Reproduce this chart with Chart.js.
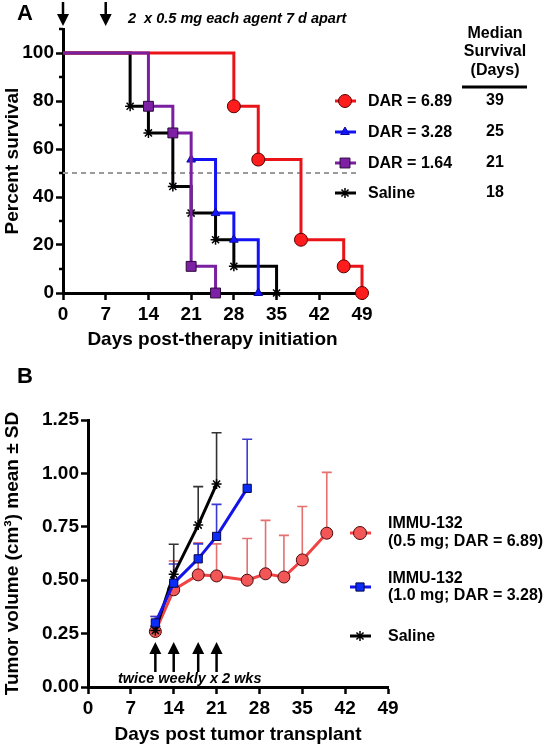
<!DOCTYPE html>
<html>
<head>
<meta charset="utf-8">
<script src="https://cdn.jsdelivr.net/npm/chart.js@4.4.1/dist/chart.umd.min.js"></script>
<style>
  html, body { margin: 0; padding: 0; background: #fff; }
  #wrap { position: relative; width: 550px; height: 754px; }
  #survival { position: absolute; left: 0; top: 0; }
  #tumor { position: absolute; left: 0; top: 360px; }
</style>
</head>
<body>
<div id="wrap">
  <canvas id="survival" width="550" height="360"></canvas>
  <canvas id="tumor" width="550" height="394"></canvas>
</div>
<script>
// ---- panel A: Kaplan-Meier survival ----
var dayTicks = [0, 7, 14, 21, 28, 35, 42, 49];
var survLabels = ['DAR = 6.89', 'DAR = 3.28', 'DAR = 1.64', 'Saline'];
var medianSurvival = [39, 25, 21, 18];
var dar689Days = [0, 28, 32, 39, 46, 49];
var dar689Surv = [100, 77.8, 55.6, 22.2, 11.1, 0];
// the 3.28 curve is only visible from its first drop on
var dar328Days = [21, 25, 28, 32];
var dar328Surv = [55.6, 33.3, 22.2, 0];
var dar164Days = [0, 14, 18, 21, 25];
var dar164Surv = [100, 77.8, 66.7, 11.1, 0];
var salineDays = [0, 11, 14, 18, 21, 25, 28, 35];
var salineSurv = [100, 77.8, 66.7, 44.4, 33.3, 22.2, 11.1, 0];
var halfSurvival = [50, 50];
var halfSurvivalDays = [0, 48.4];
var doseDaysA = [0, 7];

// ---- panel B: tumor volume ----
var tumorLabels = [['IMMU-132', '(0.5 mg; DAR = 6.89)'], ['IMMU-132', '(1.0 mg; DAR = 3.28)'], ['Saline']];
var lowDoseDays = [11, 14, 18, 21, 26, 29, 32, 35, 39];
var lowDoseMean = [0.26, 0.455, 0.525, 0.52, 0.50, 0.53, 0.515, 0.595, 0.72];
var lowDoseSD = [0.07, 0.135, 0.15, 0.15, 0.195, 0.25, 0.195, 0.25, 0.285];
var highDoseDays = [11, 14, 18, 21, 26];
var highDoseMean = [0.30, 0.486, 0.60, 0.705, 0.93];
var highDoseSD = [0.03, 0.09, 0.07, 0.15, 0.23];
var salineTvDays = [11, 14, 18, 21];
var salineTvMean = [0.265, 0.528, 0.758, 0.95];
var salineTvSD = [0.02, 0.14, 0.18, 0.24];
var doseDaysB = [11, 14, 18, 21];

var FONT = '"Liberation Sans", Arial, sans-serif';
Chart.defaults.font.family = FONT;
Chart.defaults.color = '#000';

function pts(xs, ys) { return xs.map(function (d, i) { return { x: d, y: ys[i] }; }); }

function arrow(ctx, x, yA, yB, down) {
  // yA = tail end, yB = tip
  var head = 12, w = 6;
  ctx.beginPath();
  ctx.moveTo(x, yA);
  ctx.lineTo(x, down ? yB - head + 1 : yB + head - 1);
  ctx.stroke();
  ctx.beginPath();
  ctx.moveTo(x, yB);
  ctx.lineTo(x - w, down ? yB - head : yB + head);
  ctx.lineTo(x + w, down ? yB - head : yB + head);
  ctx.closePath();
  ctx.fill();
}

function legendMark(ctx, ds, x, y) {
  ctx.strokeStyle = ds.borderColor;
  ctx.lineWidth = 3;
  ctx.beginPath(); ctx.moveTo(x - 10, y); ctx.lineTo(x + 11, y); ctx.stroke();
  ctx.fillStyle = ds.pointBackgroundColor;
  ctx.strokeStyle = ds.pointBorderColor;
  ctx.lineWidth = ds.pointBorderWidth;
  Chart.helpers.drawPoint(ctx, { pointStyle: ds.pointStyle, radius: ds.legendRadius, borderWidth: ds.pointBorderWidth, rotation: 0 }, x, y);
}

var axisFont = { size: 19, weight: 'bold' };

var extrasA = {
  id: 'extrasA',
  afterDraw: function (chart) {
    var ctx = chart.ctx, x = chart.scales.x, y = chart.scales.y;
    ctx.save();
    ctx.strokeStyle = '#000'; ctx.lineWidth = 2.5;
    [10, 30, 50, 70, 90, 110].forEach(function (v) {
      var py = y.getPixelForValue(v);
      ctx.beginPath(); ctx.moveTo(x.left - 4, py); ctx.lineTo(x.left, py); ctx.stroke();
    });
    ctx.fillStyle = '#000'; ctx.lineWidth = 2.5;
    doseDaysA.forEach(function (d) { arrow(ctx, x.getPixelForValue(d), 2, 26, true); });

    ctx.textBaseline = 'alphabetic'; ctx.textAlign = 'left';
    ctx.font = 'bold 22px ' + FONT;
    ctx.fillText('A', 17, 20);
    ctx.font = 'italic bold 14.5px ' + FONT;
    ctx.fillText('2  x 0.5 mg each agent 7 d apart', 128, 23);

    ctx.font = 'bold 16px ' + FONT;
    ctx.textAlign = 'center'; ctx.textBaseline = 'middle';
    ctx.fillText('Median', 495, 34);
    ctx.fillText('Survival', 495, 52);
    ctx.fillText('(Days)', 495, 71);
    ctx.lineWidth = 3;
    ctx.beginPath(); ctx.moveTo(462, 87); ctx.lineTo(527, 87); ctx.stroke();

    var rows = [101, 132, 163, 193];
    for (var i = 0; i < 4; i++) {
      var ds = chart.data.datasets[i];
      legendMark(ctx, ds, 345, rows[i]);
      ctx.fillStyle = '#000';
      ctx.textAlign = 'left';
      ctx.fillText(survLabels[i], 368, rows[i] + 1);
      ctx.textAlign = 'center';
      ctx.fillText(String(medianSurvival[i]), 495, rows[i]);
    }
    ctx.restore();
  }
};

function kmSet(label, days, surv, line, fill, edge, style, r, order) {
  return {
    label: label, data: pts(days, surv), stepped: true, borderColor: line, borderWidth: 3,
    pointStyle: style, pointBackgroundColor: fill, pointBorderColor: edge, pointBorderWidth: style === 'star' ? 1.5 : 1,
    pointRadius: function (c) { return c.raw && c.raw.y === 100 ? 0 : r; }, legendRadius: r, order: order, clip: false
  };
}

new Chart(document.getElementById('survival'), {
  type: 'line',
  data: {
    datasets: [
      kmSet(survLabels[0], dar689Days, dar689Surv, '#ea1418', '#ff1c1c', '#5a0000', 'circle', 6.5, 1),
      kmSet(survLabels[1], dar328Days, dar328Surv, '#1212f2', '#1414ff', '#0a0aa0', 'triangle', 5, 2),
      kmSet(survLabels[2], dar164Days, dar164Surv, '#7a1fa0', '#7d20a6', '#2a0a3a', 'rect', 7, 0),
      kmSet(survLabels[3], salineDays, salineSurv, '#000', '#000', '#000', 'star', 5, 3),
      { label: 'median', data: pts(halfSurvivalDays, halfSurvival), borderColor: '#9a9a9a', borderDash: [5, 4],
        borderWidth: 2, pointRadius: 0, order: 5 }
    ]
  },
  options: {
    responsive: false, animation: false, devicePixelRatio: 1,
    layout: { padding: { left: 0, top: 29, right: 188, bottom: 0 } },
    plugins: { legend: { display: false }, tooltip: { enabled: false } },
    scales: {
      x: {
        type: 'linear', min: 0, max: 49,
        afterBuildTicks: function (s) { s.ticks = dayTicks.map(function (v) { return { value: v }; }); },
        ticks: { font: axisFont, color: '#000', padding: 3, maxRotation: 0, autoSkip: false },
        grid: { drawOnChartArea: false, tickLength: 7, tickWidth: 2.5, tickColor: '#000' },
        border: { color: '#000', width: 3 },
        title: { display: true, text: 'Days post-therapy initiation', font: axisFont, color: '#000', padding: { top: 0, bottom: 9 } },
        afterFit: function (s) { s.height = 67; }
      },
      y: {
        min: 0, max: 110,
        ticks: { stepSize: 10, font: axisFont, color: '#000', padding: 2,
          callback: function (v) { return (v % 20 === 0 && v <= 100) ? v : ''; } },
        grid: { drawOnChartArea: false, tickLength: 7, tickWidth: 2.5,
          tickColor: function (c) { return (c.tick && c.tick.value % 20 === 0 && c.tick.value <= 100) ? '#000' : 'rgba(0,0,0,0)'; } },
        border: { color: '#000', width: 3 },
        title: { display: true, text: 'Percent survival', font: axisFont, color: '#000', padding: { top: 1, bottom: 0 } },
        afterFit: function (s) { s.width = 63; }
      }
    }
  },
  plugins: [extrasA]
});

// ---- panel B ----
var errorBars = {
  id: 'errorBars',
  beforeDatasetsDraw: function (chart) {
    var ctx = chart.ctx, x = chart.scales.x, y = chart.scales.y;
    ctx.save();
    chart.data.datasets.forEach(function (ds) {
      ctx.strokeStyle = ds.errorColor; ctx.lineWidth = 1.6;
      ds.data.forEach(function (p, i) {
        var px = x.getPixelForValue(p.x), y0 = y.getPixelForValue(p.y), y1 = y.getPixelForValue(p.y + ds.sd[i]);
        ctx.beginPath();
        ctx.moveTo(px, y0); ctx.lineTo(px, y1);
        ctx.moveTo(px - 5, y1); ctx.lineTo(px + 5, y1);
        ctx.stroke();
      });
    });
    ctx.restore();
  }
};

var extrasB = {
  id: 'extrasB',
  afterDraw: function (chart) {
    var ctx = chart.ctx, x = chart.scales.x;
    ctx.save();
    ctx.fillStyle = '#000'; ctx.strokeStyle = '#000'; ctx.lineWidth = 2.5;
    doseDaysB.forEach(function (d) { arrow(ctx, x.getPixelForValue(d), 312, 282, false); });
    ctx.textAlign = 'left'; ctx.textBaseline = 'alphabetic';
    ctx.font = 'bold 22px ' + FONT;
    ctx.fillText('B', 17, 23);
    ctx.font = 'italic bold 14.5px ' + FONT;
    ctx.fillText('twice weekly x 2 wks', 118, 323);

    ctx.font = 'bold 16px ' + FONT;
    ctx.textBaseline = 'middle';
    var marks = [173, 227, 276];
    var lines = [[164, 182], [219, 236], [277]];
    for (var i = 0; i < 3; i++) {
      legendMark(ctx, chart.data.datasets[i], 360, marks[i]);
      ctx.fillStyle = '#000';
      tumorLabels[i].forEach(function (t, k) { ctx.fillText(t, 388, lines[i][k]); });
    }
    ctx.restore();
  }
};

new Chart(document.getElementById('tumor'), {
  type: 'line',
  data: {
    datasets: [
      { label: 'IMMU-132 0.5 mg', data: pts(lowDoseDays, lowDoseMean), sd: lowDoseSD, errorColor: '#e47070',
        borderColor: '#f04444', borderWidth: 3, pointStyle: 'circle', pointRadius: 6, legendRadius: 6.5,
        pointBackgroundColor: '#f25656', pointBorderColor: '#4a0a0a', pointBorderWidth: 1, order: 2, clip: false },
      { label: 'IMMU-132 1.0 mg', data: pts(highDoseDays, highDoseMean), sd: highDoseSD, errorColor: '#3a3ad0',
        borderColor: '#1414e8', borderWidth: 3, pointStyle: 'rect', pointRadius: 5.8, legendRadius: 5.8,
        pointBackgroundColor: '#0a2cf6', pointBorderColor: '#06064a', pointBorderWidth: 1, order: 0, clip: false },
      { label: 'Saline', data: pts(salineTvDays, salineTvMean), sd: salineTvSD, errorColor: '#333',
        borderColor: '#000', borderWidth: 3, pointStyle: 'star', pointRadius: 5, legendRadius: 5,
        pointBackgroundColor: '#000', pointBorderColor: '#000', pointBorderWidth: 1.5, order: 1, clip: false }
    ]
  },
  options: {
    responsive: false, animation: false, devicePixelRatio: 1,
    layout: { padding: { left: 0, top: 60, right: 162, bottom: 0 } },
    plugins: { legend: { display: false }, tooltip: { enabled: false } },
    scales: {
      x: {
        type: 'linear', min: 0, max: 49,
        afterBuildTicks: function (s) { s.ticks = dayTicks.map(function (v) { return { value: v }; }); },
        ticks: { font: axisFont, color: '#000', padding: 3, maxRotation: 0, autoSkip: false },
        grid: { drawOnChartArea: false, tickLength: 7, tickWidth: 2.5, tickColor: '#000' },
        border: { color: '#000', width: 3 },
        title: { display: true, text: 'Days post tumor transplant', font: axisFont, color: '#000', padding: { top: 0, bottom: 8 } },
        afterFit: function (s) { s.height = 67; }
      },
      y: {
        min: 0, max: 1.25,
        ticks: { stepSize: 0.25, font: axisFont, color: '#000', padding: 2,
          callback: function (v) { return v.toFixed(2); } },
        grid: { drawOnChartArea: false, tickLength: 7, tickWidth: 2.5, tickColor: '#000' },
        border: { color: '#000', width: 3 },
        title: { display: true, text: 'Tumor volume (cm³) mean ± SD', font: axisFont, color: '#000', padding: { top: 1, bottom: 0 } },
        afterFit: function (s) { s.width = 88; }
      }
    }
  },
  plugins: [errorBars, extrasB]
});
</script>
</body>
</html>
